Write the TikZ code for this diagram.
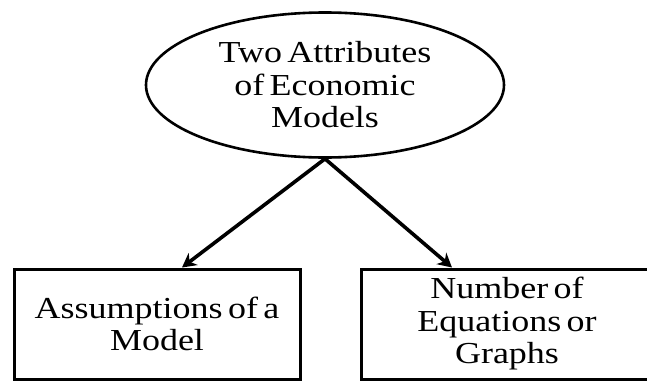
\documentclass[tikz,border=0pt]{standalone}
\usepackage{fontspec}
\setmainfont{Liberation Serif}[FakeStretch=1.18,WordSpace=0.6]
\usetikzlibrary{arrows.meta,shapes.geometric}
\begin{document}
\begin{tikzpicture}[x=1pt,y=-1pt,
  txt/.style={font=\fontsize{30.5}{32.5}\selectfont, align=center},
  ell/.style={ellipse, draw, line width=2.6pt, minimum width=358pt, minimum height=145pt, inner sep=0pt, txt},
  boxn/.style={rectangle, draw, line width=3pt, minimum height=110pt, inner sep=0pt, txt},
  arr/.style={line width=3.6pt, -{Stealth[length=14pt,width=15pt,inset=4.5pt]}}]
\useasboundingbox (0,0) rectangle (647,380);
\clip (0,0) rectangle (647,380);
\node[ell] (top) at (325,85) {Two Attributes\\of Economic\\Models};
\node[boxn, minimum width=286pt] (left) at (157,324) {Assumptions of a\\Model};
\node[boxn, minimum width=292pt] (right) at (507,324) {Number of\\Equations or\\Graphs};
\draw[arr] (top.south) -- ([xshift=25pt]left.north);
\draw[arr] (top.south) -- ([xshift=-55pt]right.north);
\end{tikzpicture}
\end{document}
